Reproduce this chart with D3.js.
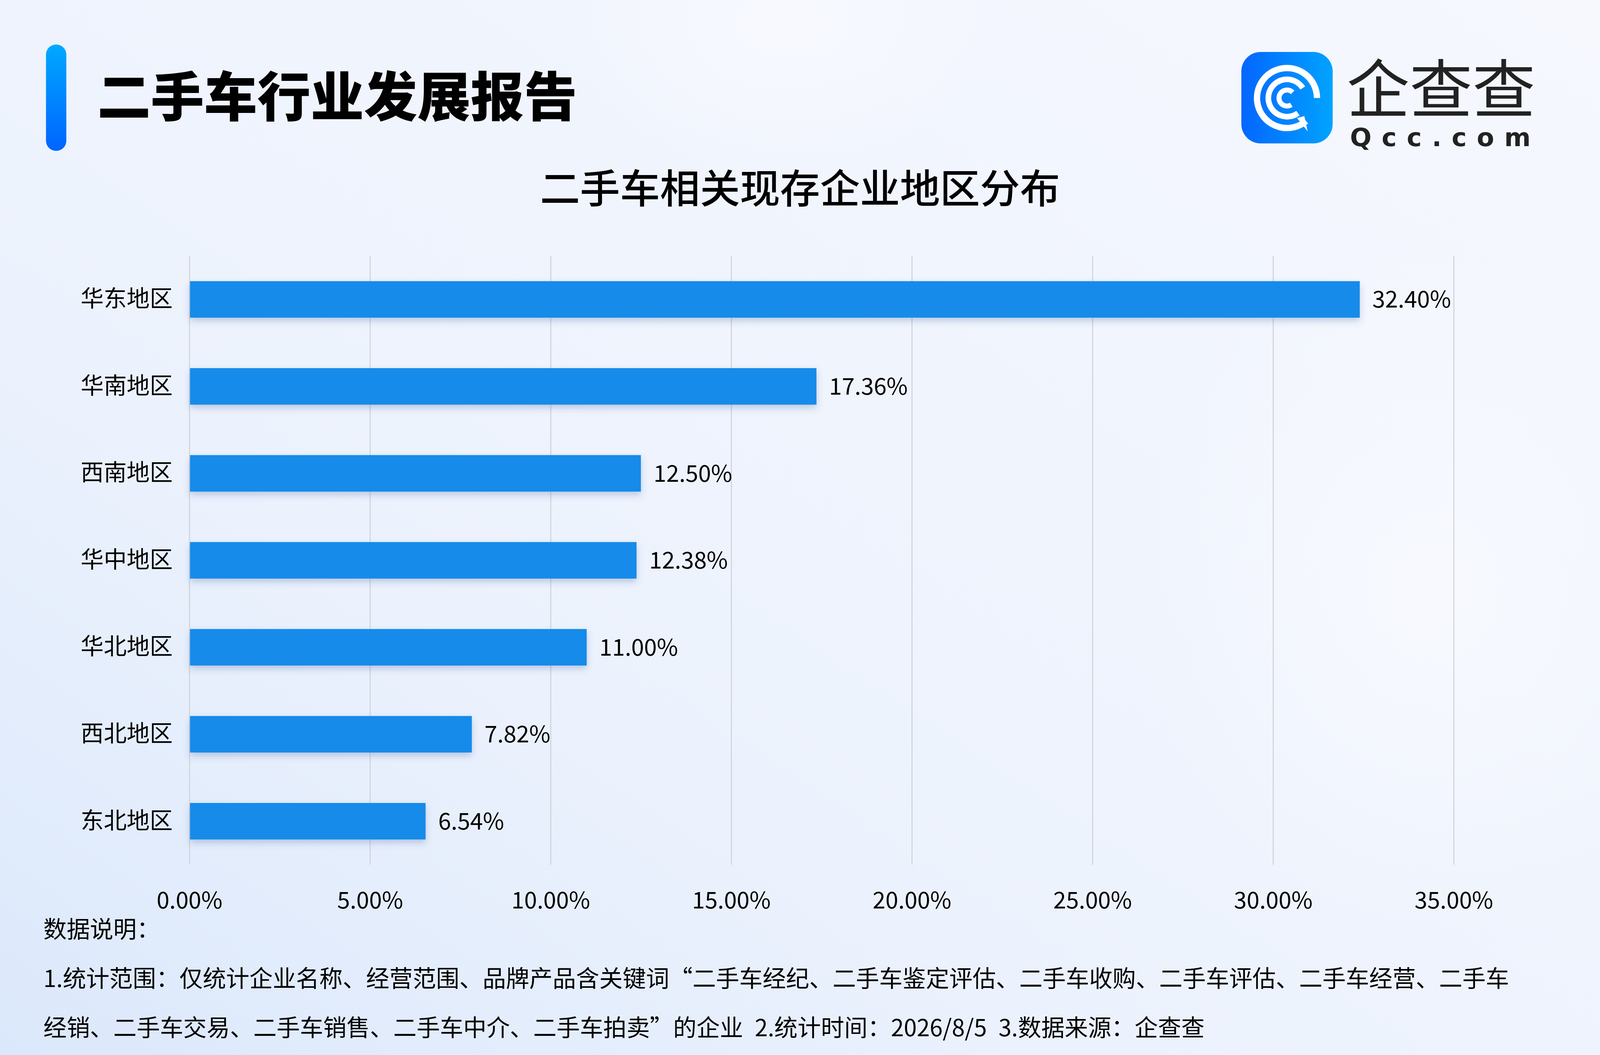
<!DOCTYPE html>
<html>
<head>
<meta charset="utf-8">
<script src="https://cdn.jsdelivr.net/npm/d3@7"></script>
<style>
  html, body { margin: 0; padding: 0; background: #eef4fd; overflow: hidden; width: 100%; height: 100%; }
  svg { display: block; }
</style>
</head>
<body>
<script>
// dados
const regioes = ['华东地区', '华南地区', '西南地区', '华中地区', '华北地区', '西北地区', '东北地区'];
const percentuais = [32.40, 17.36, 12.50, 12.38, 11.00, 7.82, 6.54];
const ticksX = [0, 5, 10, 15, 20, 25, 30, 35];
const titulo = '二手车行业发展报告';
const subtitulo = '二手车相关现存企业地区分布';
const notas = [
  '数据说明：',
  '1.统计范围：仅统计企业名称、经营范围、品牌产品含关键词“二手车经纪、二手车鉴定评估、二手车收购、二手车评估、二手车经营、二手车',
  '经销、二手车交易、二手车销售、二手车中介、二手车拍卖”的企业\u20022.统计时间：2026/8/5\u20023.数据来源：企查查'
];

// layout pensado em 4800x2700, ajustado ao tamanho real da janela
const W = window.innerWidth || 4800, H = window.innerHeight || 2700;
const sx = W / 4800, sy = H / 2700, s = Math.min(sx, sy);
const X = v => v * sx, Y = v => v * sy, F = v => v * s;
const fonte = '"Noto Sans CJK SC", "Noto Sans", sans-serif';

const svg = d3.select('body').append('svg')
  .attr('width', W).attr('height', H)
  .attr('xmlns', 'http://www.w3.org/2000/svg');

const defs = svg.append('defs');

// fundo
const bg = defs.append('linearGradient').attr('id', 'bg')
  .attr('x1', 0).attr('y1', 1).attr('x2', 1).attr('y2', 0);
bg.append('stop').attr('offset', '0%').attr('stop-color', '#dbe8fb');
bg.append('stop').attr('offset', '35%').attr('stop-color', '#ecf2fd');
bg.append('stop').attr('offset', '100%').attr('stop-color', '#f6f8fe');

const bolha = defs.append('radialGradient').attr('id', 'bolha');
bolha.append('stop').attr('offset', '0%').attr('stop-color', '#f8faff').attr('stop-opacity', 0.9);
bolha.append('stop').attr('offset', '100%').attr('stop-color', '#f8faff').attr('stop-opacity', 0);

const barraTitulo = defs.append('linearGradient').attr('id', 'barraTitulo')
  .attr('x1', 0).attr('y1', 0).attr('x2', 0).attr('y2', 1);
barraTitulo.append('stop').attr('offset', '0%').attr('stop-color', '#00a9ff');
barraTitulo.append('stop').attr('offset', '100%').attr('stop-color', '#0064ff');

const logoGrad = defs.append('linearGradient').attr('id', 'logoGrad')
  .attr('x1', 0).attr('y1', 0).attr('x2', 1).attr('y2', 0);
logoGrad.append('stop').attr('offset', '0%').attr('stop-color', '#0466ff');
logoGrad.append('stop').attr('offset', '100%').attr('stop-color', '#00a3ff');

const sombra = defs.append('filter').attr('id', 'sombra')
  .attr('x', '-5%').attr('y', '-30%').attr('width', '110%').attr('height', '180%');
sombra.append('feDropShadow')
  .attr('dx', 0).attr('dy', F(10)).attr('stdDeviation', F(10))
  .attr('flood-color', '#3a5a9a').attr('flood-opacity', 0.28);

svg.append('rect').attr('width', W).attr('height', H).attr('fill', 'url(#bg)');
svg.append('ellipse').attr('cx', X(2350)).attr('cy', Y(60)).attr('rx', X(650)).attr('ry', Y(380)).attr('fill', 'url(#bolha)');
svg.append('ellipse').attr('cx', X(4300)).attr('cy', Y(1500)).attr('rx', X(900)).attr('ry', Y(900)).attr('fill', 'url(#bolha)');

// cabecalho
svg.append('rect')
  .attr('x', X(138)).attr('y', Y(114)).attr('width', X(61)).attr('height', Y(272))
  .attr('rx', X(30)).attr('ry', X(30)).attr('fill', 'url(#barraTitulo)');

svg.append('text')
  .attr('x', X(292)).attr('y', Y(298))
  .attr('font-family', fonte).attr('font-size', F(160)).attr('font-weight', 900)
  .attr('fill', '#000')
  .text(titulo);

svg.append('text')
  .attr('x', X(2400)).attr('y', Y(520))
  .attr('text-anchor', 'middle')
  .attr('font-family', fonte).attr('font-size', F(120)).attr('font-weight', 500)
  .attr('fill', '#000')
  .text(subtitulo);

// logo
const logo = svg.append('g')
  .attr('transform', `translate(${X(3724)},${Y(250) - F(137)}) scale(${s})`);
logo.append('rect').attr('width', 274).attr('height', 274).attr('rx', 58).attr('fill', 'url(#logoGrad)');
const cx = 137, cy = 138;
function arco(r, a0, a1, w) {
  logo.append('path')
    .attr('transform', `translate(${cx},${cy})`)
    .attr('d', d3.arc()({ innerRadius: r - w / 2, outerRadius: r + w / 2, startAngle: a0, endAngle: a1 }))
    .attr('fill', '#fff');
}
arco(90, Math.PI * 0.78, Math.PI * 2.5, 19);
arco(56, Math.PI * 0.80, Math.PI * 2.32, 17);
arco(24, Math.PI * 0.82, Math.PI * 2.25, 15);
logo.append('path')
  .attr('d', `M${cx + 30},${cy + 60} L${cx + 62},${cy + 100} L${cx + 52},${cy + 54} Z`)
  .attr('fill', '#fff');

svg.append('text')
  .attr('x', X(4040)).attr('y', Y(288))
  .attr('font-family', fonte).attr('font-size', F(190)).attr('font-weight', 400)
  .attr('fill', '#222')
  .attr('textLength', F(566)).attr('lengthAdjust', 'spacingAndGlyphs')
  .text('企查查');

svg.append('text')
  .attr('x', X(4050)).attr('y', Y(374))
  .attr('font-family', '"DejaVu Sans", sans-serif').attr('font-size', F(76)).attr('font-weight', 700)
  .attr('fill', '#222')
  .attr('textLength', F(542)).attr('lengthAdjust', 'spacing')
  .text('Qcc.com');

// grafico
const topo = Y(655), base = Y(2213);
const x = d3.scaleLinear().domain([0, 35]).range([X(568), X(4361)]);
const y = d3.scaleBand().domain(regioes).range([topo, base]).paddingInner(0.58).paddingOuter(0.29);
const fsEixo = F(69);

const eixoX = svg.append('g')
  .attr('transform', `translate(0,${base})`)
  .call(d3.axisBottom(x)
    .tickValues(ticksX)
    .tickFormat(d => d.toFixed(2) + '%')
    .tickSize(-(base - topo))
    .tickPadding(Y(2325 - 2213) - 0.71 * fsEixo));
eixoX.select('.domain').remove();
eixoX.selectAll('.tick line').attr('stroke', '#cfd2d8').attr('stroke-width', F(3));
eixoX.selectAll('.tick text')
  .attr('font-family', fonte).attr('font-size', fsEixo).attr('fill', '#000');

const eixoY = svg.append('g')
  .attr('transform', `translate(${x(0)},0)`)
  .call(d3.axisLeft(y).tickSize(0).tickPadding(X(50)));
eixoY.select('.domain').remove();
eixoY.selectAll('.tick text')
  .attr('font-family', fonte).attr('font-size', fsEixo).attr('fill', '#000');

const dados = regioes.map((r, i) => ({ regiao: r, valor: percentuais[i] }));

svg.append('g').selectAll('rect')
  .data(dados)
  .join('rect')
  .attr('x', x(0) + F(2))
  .attr('y', d => y(d.regiao))
  .attr('width', d => x(d.valor) - x(0) - F(2))
  .attr('height', y.bandwidth())
  .attr('fill', '#168bea')
  .attr('filter', 'url(#sombra)');

svg.append('g').selectAll('text')
  .data(dados)
  .join('text')
  .attr('x', d => x(d.valor) + X(38))
  .attr('y', d => y(d.regiao) + y.bandwidth() / 2)
  .attr('dy', '0.36em')
  .attr('font-family', fonte).attr('font-size', fsEixo).attr('fill', '#000')
  .text(d => d.valor.toFixed(2) + '%');

// notas
svg.append('g').selectAll('text')
  .data(notas)
  .join('text')
  .attr('x', X(130))
  .attr('y', (d, i) => Y(2400 + i * 126))
  .attr('font-family', fonte).attr('font-size', F(70)).attr('fill', '#000')
  .text(d => d);
</script>
</body>
</html>
